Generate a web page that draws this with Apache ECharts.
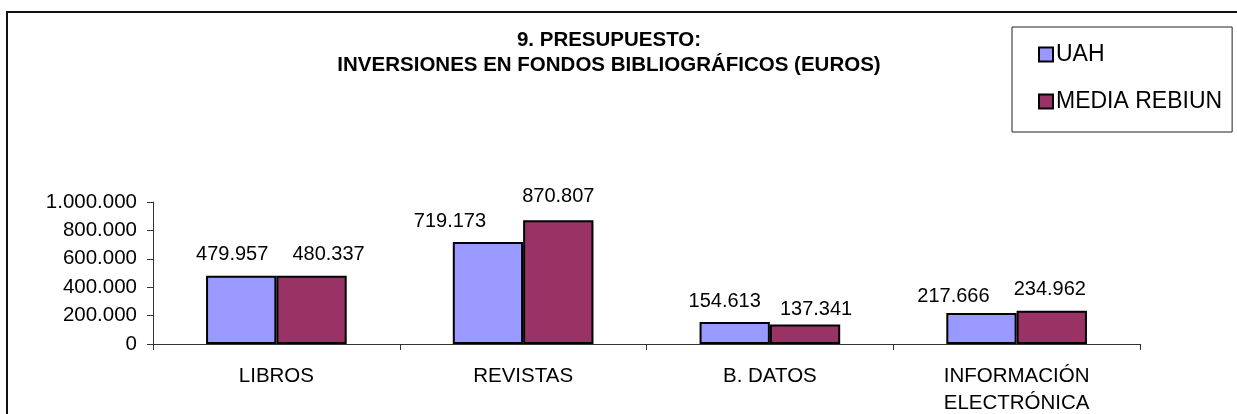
<!DOCTYPE html>
<html lang="es">
    <head>
        <meta charset="utf-8">
        <title>Presupuesto: inversiones en fondos bibliográficos</title>
        <style>
            html, body { margin: 0; padding: 0; background: #fff; }
            #grafico { width: 1237px; height: 414px; }
        </style>
    </head>
    <body>
        <div id="grafico"></div>
        <script src="https://cdn.jsdelivr.net/npm/echarts@6/dist/echarts.min.js"></script>
        <script type="text/javascript">
            // categorias del eje X
            var categorias = ['LIBROS', 'REVISTAS', 'B. DATOS', 'INFORMACIÓN\nELECTRÓNICA'];
            // valores en euros
            var uah = [479957, 719173, 154613, 217666];
            var mediaRebiun = [480337, 870807, 137341, 234962];
            // marcas del eje Y
            var yMin = 0;
            var yMax = 1000000;
            var yPaso = 200000;

            // desplazamiento [x, y] de las etiquetas, como las coloca Excel
            var despUah = [[-9, 0], [-38, 1], [-10, 0], [-28, 4]];
            var despRebiun = [[17, 0], [0, -3], [11, 6], [-2, 0]];

            var fuente = '"Liberation Sans", Arial, sans-serif';

            // 1.000.000 en vez de 1,000,000
            function puntos(v) {
                return String(Math.round(v)).replace(/\B(?=(\d{3})+(?!\d))/g, '.');
            }

            function datos(valores, desp) {
                return valores.map(function (v, i) {
                    return { value: v, label: { offset: desp[i] } };
                });
            }

            var myChart = echarts.init(document.getElementById('grafico'));

            var etiqueta = {
                show: true,
                position: 'top',
                distance: 11,
                color: '#000',
                fontFamily: fuente,
                fontSize: 20,
                formatter: function (p) { return puntos(p.value); }
            };

            option = {
                animation: false,
                backgroundColor: '#fff',
                textStyle: { fontFamily: fuente },
                title: {
                    text: '9. PRESUPUESTO:\nINVERSIONES EN FONDOS BIBLIOGRÁFICOS (EUROS)',
                    left: 609,
                    top: 28,
                    padding: 0,
                    textAlign: 'center',
                    textStyle: {
                        fontFamily: fuente,
                        fontWeight: 'bold',
                        fontSize: 20.5,
                        lineHeight: 25,
                        color: '#000'
                    }
                },
                legend: {
                    orient: 'vertical',
                    left: 1012,
                    top: 27,
                    padding: [16, 10, 19, 26],
                    itemWidth: 14,
                    itemHeight: 14,
                    itemGap: 24,
                    borderColor: '#222',
                    borderWidth: 1,
                    icon: 'rect',
                    textStyle: { fontFamily: fuente, fontSize: 23, color: '#000', padding: [0, 0, 0, -2] }
                },
                grid: {
                    left: 153,
                    right: 97,
                    top: 202,
                    bottom: 70,
                    // que las etiquetas no encojan la zona de dibujo
                    outerBoundsMode: 'none'
                },
                xAxis: {
                    type: 'category',
                    data: categorias,
                    axisLine: { lineStyle: { color: '#333', width: 1 } },
                    axisTick: { show: true, length: 6, lineStyle: { color: '#333' } },
                    axisLabel: {
                        interval: 0,
                        margin: 19,
                        color: '#000',
                        fontFamily: fuente,
                        fontSize: 20.5,
                        lineHeight: 27
                    }
                },
                yAxis: {
                    type: 'value',
                    min: yMin,
                    max: yMax,
                    interval: yPaso,
                    splitLine: { show: false },
                    axisLine: { show: true, lineStyle: { color: '#333', width: 1 } },
                    axisTick: { show: true, length: 6, lineStyle: { color: '#333' } },
                    axisLabel: {
                        margin: 16,
                        color: '#000',
                        fontFamily: fuente,
                        fontSize: 20.5,
                        formatter: puntos
                    }
                },
                series: [{
                    name: 'UAH',
                    type: 'bar',
                    barGap: '0%',
                    barCategoryGap: '43%',
                    itemStyle: { color: '#9999FF', borderColor: '#000', borderWidth: 2 },
                    label: etiqueta,
                    data: datos(uah, despUah)
                }, {
                    name: 'MEDIA REBIUN',
                    type: 'bar',
                    barGap: '0%',
                    barCategoryGap: '43%',
                    itemStyle: { color: '#993366', borderColor: '#000', borderWidth: 2 },
                    label: etiqueta,
                    data: datos(mediaRebiun, despRebiun)
                }],
                graphic: [{
                    // marco exterior del grafico
                    type: 'rect',
                    silent: true,
                    shape: { x: 7, y: 12, width: 1240, height: 410 },
                    style: { fill: 'none', stroke: '#111', lineWidth: 2 }
                }]
            };
            myChart.setOption(option);
        </script>
    </body>
</html>
